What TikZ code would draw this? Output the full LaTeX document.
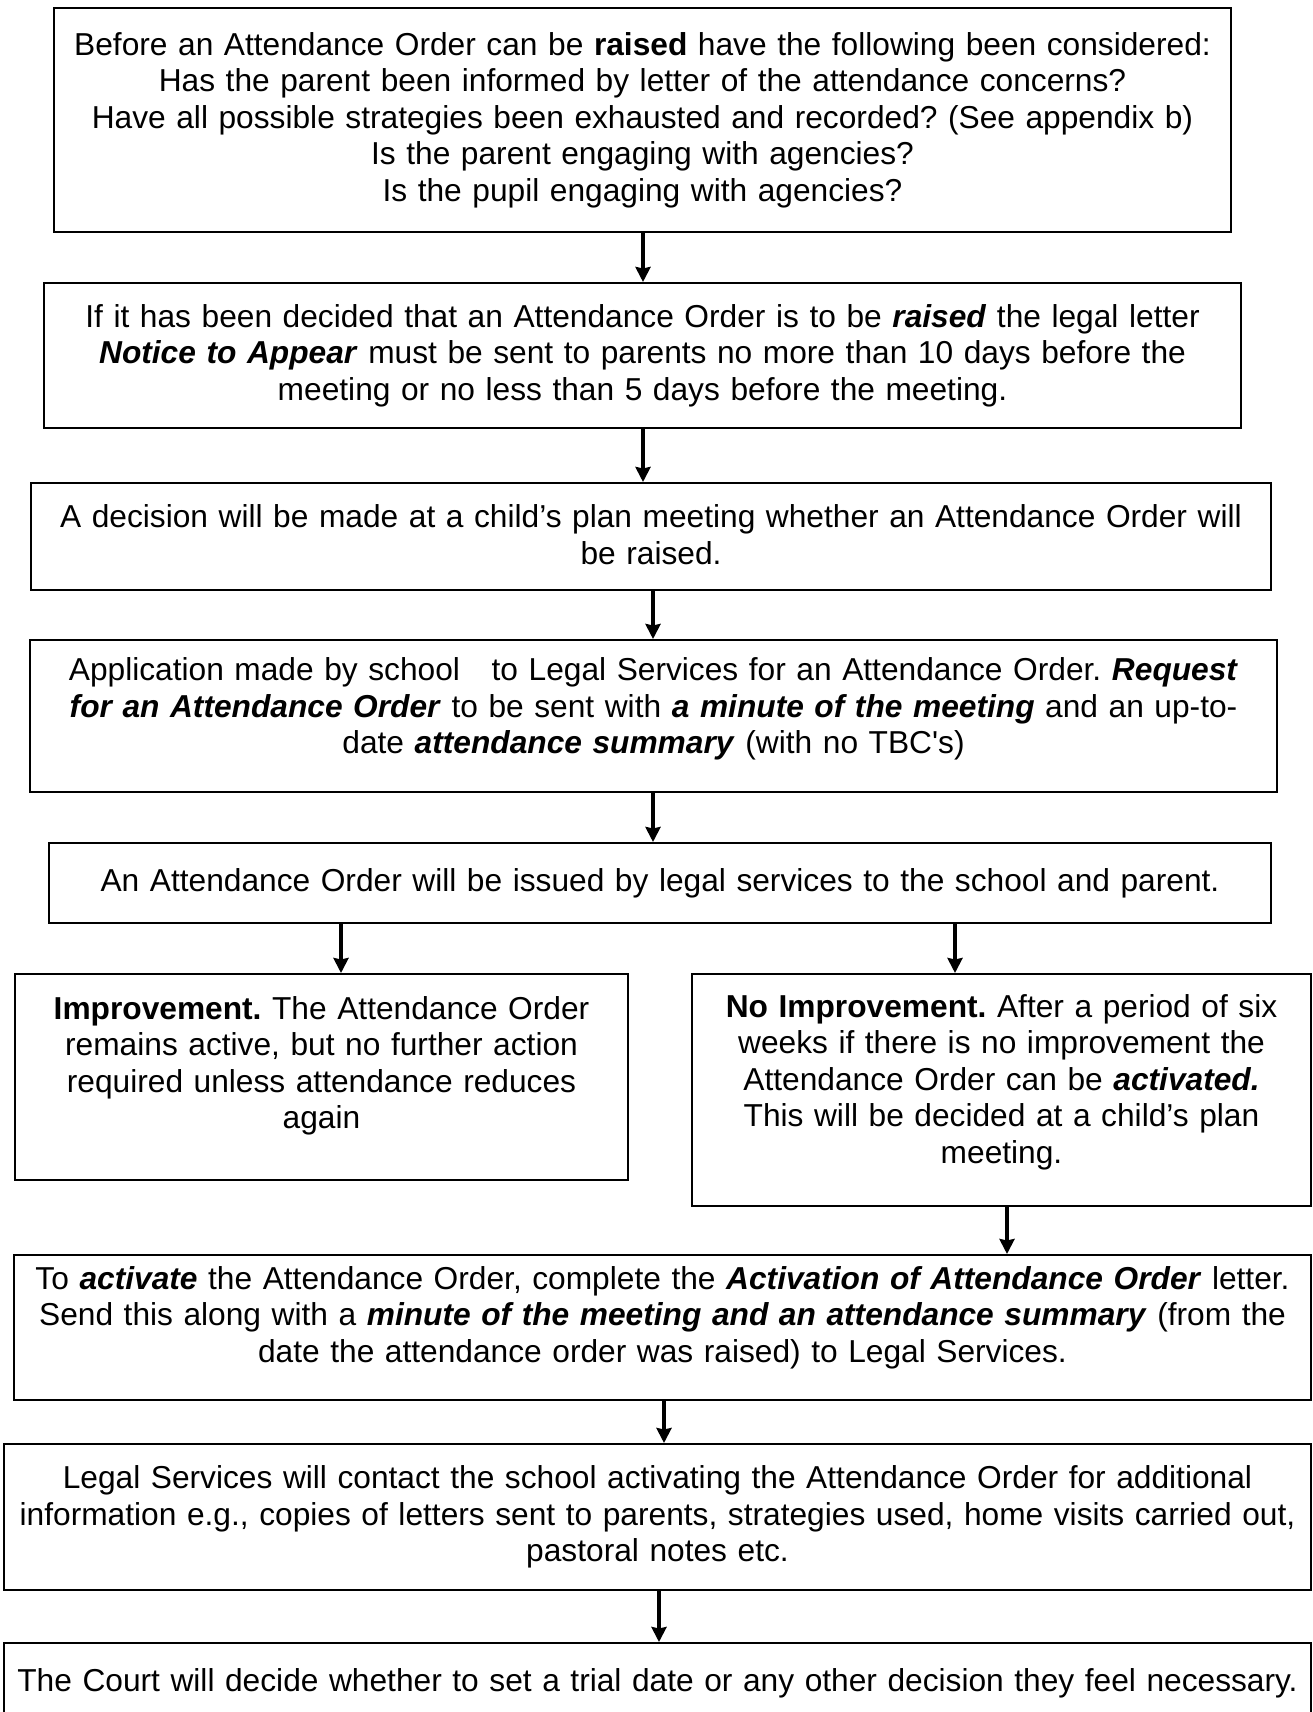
\documentclass[tikz,border=0pt]{standalone}
\usepackage{fontspec}
\setmainfont{Liberation Sans}
\usetikzlibrary{arrows.meta}
\newcommand{\boxfont}{\fontsize{31.7pt}{36.5pt}\selectfont\frenchspacing}
\newcommand{\boxgap}[1]{\endgraf\vspace{#1}}

\begin{document}
\begin{tikzpicture}[x=1pt,y=-1pt,>={Stealth[length=15pt,width=15pt,inset=1.5pt]},line width=2pt,
                    box/.style={draw,rectangle,inner sep=0pt,align=center,font=\boxfont},
                    liftby/.style={execute at end node={\boxgap{#1}}},
                    arr/.style={->,line width=4pt}]

  \useasboundingbox (0,0) rectangle (1313,1712);

  \node[box,minimum width=1177pt,minimum height=224pt,text width=1160pt] (consider) at (642.5,120)
    {Before an Attendance Order can be \textbf{raised} have the following been considered:\\
     Has the parent been informed by letter of the attendance concerns?\\
     Have all possible strategies been exhausted and recorded? (See appendix b)\\
     Is the parent engaging with agencies?\\
     Is the pupil engaging with agencies?};
  \node[box,minimum width=1197pt,minimum height=145pt,text width=1180pt] (notice) at (642.5,355.5)
    {If it has been decided that an Attendance Order is to be \textbf{\textit{raised}} the legal letter\\
     \textbf{\textit{Notice to Appear}} must be sent to parents no more than 10 days before the\\
     meeting or no less than 5 days before the meeting.};
  \node[box,minimum width=1240pt,minimum height=107pt,text width=1230pt,liftby=4pt] (decision) at (651,536.5)
    {A decision will be made at a child’s plan meeting whether an Attendance Order will\\
     be raised.};
  \node[box,minimum width=1247pt,minimum height=152pt,text width=1240pt,liftby=14pt] (apply) at (653.5,716)
    {Application made by school\ \ \ to Legal Services for an Attendance Order. \textbf{\textit{Request}}\\
     \textbf{\textit{for an Attendance Order}} to be sent with \textbf{\textit{a minute of the meeting}} and an up-to-\\
     date \textbf{\textit{attendance summary}} (with no TBC\textquotesingle s)};
  \node[box,minimum width=1222pt,minimum height=80pt,text width=1215pt] (issued) at (660,883)
    {An Attendance Order will be issued by legal services to the school and parent.};
  \node[box,minimum width=613pt,minimum height=206pt,text width=606pt,liftby=22pt] (improve) at (321.5,1077)
    {\textbf{Improvement.} The Attendance Order\\
     remains active, but no further action\\
     required unless attendance reduces\\
     again};
  \node[box,minimum width=619pt,minimum height=232pt,text width=612pt,liftby=16pt] (noimprove) at (1001.5,1090)
    {\textbf{No Improvement.} After a period of six\\
     weeks if there is no improvement the\\
     Attendance Order can be \textbf{\textit{activated.}}\\
     This will be decided at a child’s plan\\
     meeting.};
  \node[box,minimum width=1297pt,minimum height=145pt,text width=1292pt,liftby=20pt] (activate) at (662.5,1327.5)
    {To \textbf{\textit{activate}} the Attendance Order, complete the \textbf{\textit{Activation of Attendance Order}} letter.\\
     Send this along with a \textbf{\textit{minute of the meeting and an attendance summary}} (from the\\
     date the attendance order was raised) to Legal Services.};
  \node[box,minimum width=1307pt,minimum height=146pt,text width=1302pt] (contact) at (657.5,1517)
    {Legal Services will contact the school activating the Attendance Order for additional\\
     information e.g., copies of letters sent to parents, strategies used, home visits carried out,\\
     pastoral notes etc.};
  \node[box,minimum width=1307pt,minimum height=80pt,text width=1302pt] (court) at (657.5,1683)
    {The Court will decide whether to set a trial date or any other decision they feel necessary.};

  % connectors
  \draw[arr] (consider.south -| 643,0) -- (notice.north -| 643,0);
  \draw[arr] (notice.south -| 643,0) -- (decision.north -| 643,0);
  \draw[arr] (decision.south -| 653,0) -- (apply.north -| 653,0);
  \draw[arr] (apply.south -| 653,0) -- (issued.north -| 653,0);
  \draw[arr] (issued.south -| 341,0) -- (improve.north -| 341,0);
  \draw[arr] (issued.south -| 955,0) -- (noimprove.north -| 955,0);
  \draw[arr] (noimprove.south -| 1007,0) -- (activate.north -| 1007,0);
  \draw[arr] (activate.south -| 664,0) -- (contact.north -| 664,0);
  \draw[arr] (contact.south -| 659,0) -- (court.north -| 659,0);
\end{tikzpicture}
\end{document}
